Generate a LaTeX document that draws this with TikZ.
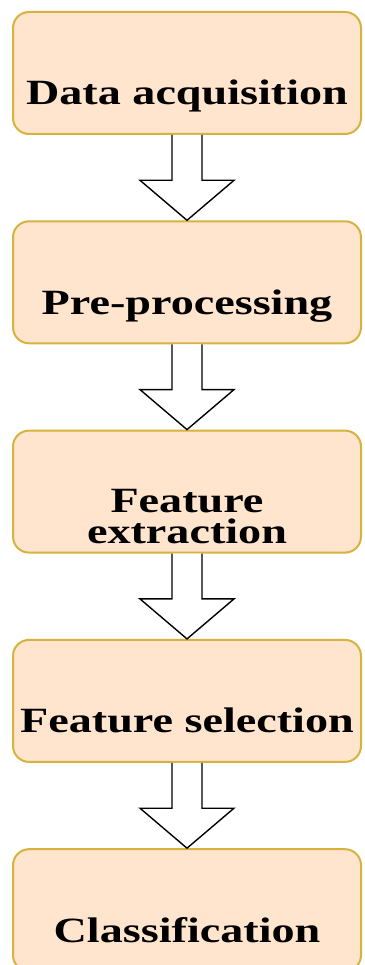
\documentclass[tikz,border=0pt]{standalone}
\usepackage{fontspec}
\usepackage{xcolor}
\usepackage{tikz}
\usetikzlibrary{positioning}

\newfontfamily\stagefont{Liberation Serif}[FakeStretch=1.3]
\definecolor{stagefill}{RGB}{255,229,206}
\definecolor{stageline}{RGB}{214,178,62}

\tikzset{
  stage/.style={draw=stageline, fill=stagefill, line width=2pt,
    rounded corners=16pt, minimum width=348pt, inner sep=0pt,
    text height=93pt, text depth=29pt, align=center,
    font=\stagefont\bfseries\fontsize{35.5}{31}\selectfont},
  flow/.style={draw=black, fill=white, line width=1.4pt, line join=miter}
}

\begin{document}
\begin{tikzpicture}
  \useasboundingbox (0,0) rectangle (364pt,-965pt);
  \node[stage] (s1) at (187pt,-73pt) {Data acquisition};
  \node[stage, below=85.3pt of s1] (s2) {Pre-processing};
  \node[stage, below=85.3pt of s2, text height=113pt, text depth=9pt] (s3) {Feature\\extraction};
  \node[stage, below=85.3pt of s3] (s4) {Feature selection};
  \node[stage, below=85.3pt of s4] (s5) {Classification};
  % hollow block arrows between the stages
  \foreach \a/\b in {s1/s2, s2/s3, s3/s4, s4/s5}
    \draw[flow] ([xshift=-15pt]\a.south) -- ([xshift=-15pt,yshift=40pt]\b.north)
      -- ([xshift=-47pt,yshift=40pt]\b.north) -- (\b.north)
      -- ([xshift=47pt,yshift=40pt]\b.north) -- ([xshift=15pt,yshift=40pt]\b.north)
      -- ([xshift=15pt]\a.south);
\end{tikzpicture}
\end{document}
